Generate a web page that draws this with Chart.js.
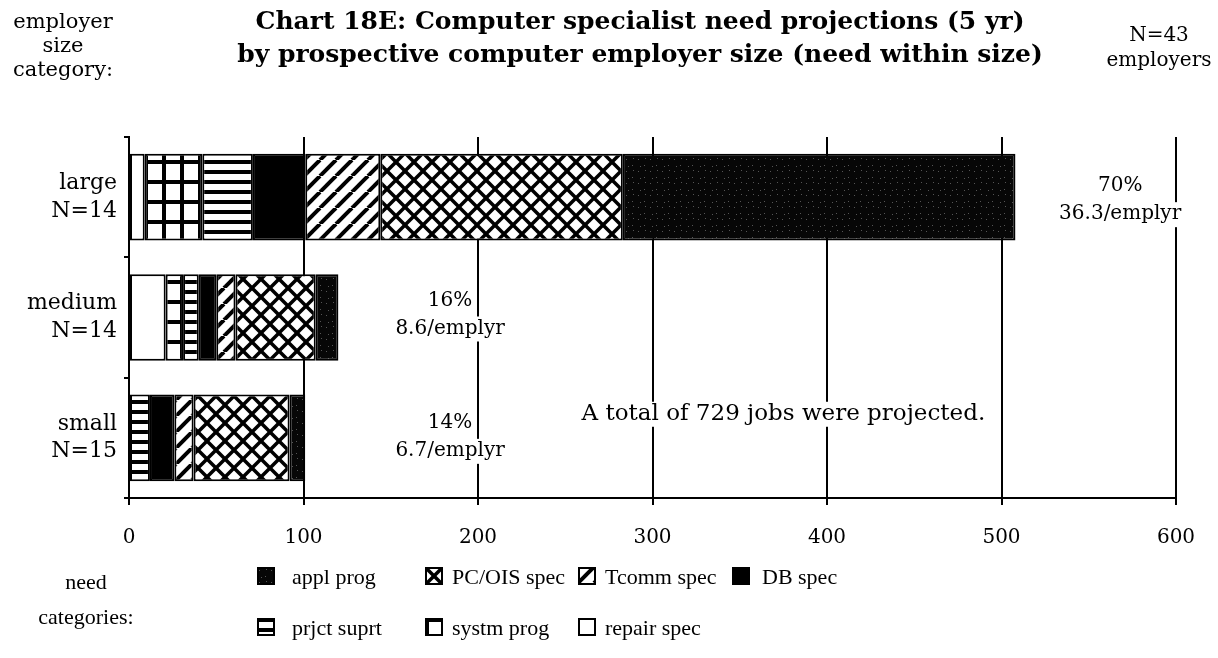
<!DOCTYPE html>
<html>
<head>
<meta charset="utf-8">
<script src="https://cdn.jsdelivr.net/npm/chart.js@4"></script>
<style>
  body { margin: 0; background: #fff; }
  #page { position: relative; width: 1218px; height: 658px; font-family: "DejaVu Serif", serif; color: #000; overflow: hidden; }
  #wrap { position: absolute; left: 0; top: 0; width: 1218px; height: 658px; }
  .t { position: absolute; white-space: nowrap; line-height: 1; }
  .c { text-align: center; }
  #title { position: absolute; left: 140px; width: 1000px; top: 4px; text-align: center; font-family: "DejaVu Serif", serif; font-weight: bold; font-size: 25px; line-height: 33px; white-space: nowrap; }
  .item { position: absolute; height: 20px; font-family: "Liberation Serif", serif; font-size: 22px; white-space: nowrap; }
  .item canvas { position: absolute; left: 0; top: 0; }
  .item span { position: absolute; top: -3px; }
</style>
</head>
<body>
<div id="page">
  <div id="wrap"><canvas id="chart"></canvas></div>
  <div id="title">Chart 18E: Computer specialist need projections (5 yr)<br>by prospective computer employer size (need within size)</div>
  <div class="t c" style="left:0; width:126px; top:9px; font-size:21px; line-height:24px;">employer<br>size<br>category:</div>
  <div class="t c" style="left:1100px; width:118px; top:22px; font-size:20px; line-height:25px;">N=43<br>employers</div>
  <div class="t c" style="left:38px; width:96px; top:564px; font-family:'Liberation Serif', serif; font-size:22px; line-height:35px;">need<br>categories:</div>
  <div id="legend"></div>
</div>
<script>
// employer size categories (y axis)
const categories = [['large', 'N=14'], ['medium', 'N=14'], ['small', 'N=15']];

// projected jobs per need category, in the order the segments are stacked
const repairSpec = [9, 21, 0];
const systmProg = [33, 10, 0];
const prjctSuprt = [29, 9, 12];
const dbSpec = [30, 10, 14];
const tcommSpec = [43, 11, 11];
const pcOisSpec = [139, 46, 55];
const applProg = [225, 13, 9];

const xTicks = [0, 100, 200, 300, 400, 500, 600];

// notes beside the bars: text, x value, category index
const noteText = [['70%', '36.3/emplyr'], ['16%', '8.6/emplyr'], ['14%', '6.7/emplyr']];
const noteX = [568, 184, 184];
const totalNote = 'A total of 729 jobs were projected.';

// fill patterns
function tile(w, h, draw) {
    const c = document.createElement('canvas');
    c.width = w; c.height = h;
    const g = c.getContext('2d');
    g.fillStyle = '#fff';
    g.fillRect(0, 0, w, h);
    g.fillStyle = '#000';
    g.strokeStyle = '#000';
    draw(g, w, h);
    return g.createPattern(c, 'repeat');
}
function diagonals(g, s, dir) {
    for (const k of [-s, 0, s]) {
        g.beginPath();
        if (dir > 0) { g.moveTo(k, s); g.lineTo(k + s, 0); }
        else { g.moveTo(k, 0); g.lineTo(k + s, s); }
        g.stroke();
    }
}
const fills = {
    repair: '#ffffff',
    systm: tile(18, 20, (g) => { g.fillRect(0, 0, 4, 20); g.fillRect(0, 0, 18, 4); }),
    prjct: tile(8, 10, (g) => { g.fillRect(0, 0, 8, 4); }),
    db: '#000000',
    tcomm: tile(16, 16, (g) => { g.lineWidth = 4; diagonals(g, 16, 1); }),
    pcois: tile(18, 18, (g) => { g.lineWidth = 3.5; diagonals(g, 18, 1); diagonals(g, 18, -1); }),
    appl: tile(12, 12, (g) => {
        g.fillStyle = '#070707'; g.fillRect(0, 0, 12, 12);
        g.fillStyle = '#555';
        g.fillRect(2, 3, 1, 1); g.fillRect(8, 9, 1, 1); g.fillRect(9, 2, 1, 1); g.fillRect(4, 10, 1, 1);
    })
};

const series = [
    { label: 'repair spec', data: repairSpec, fill: fills.repair },
    { label: 'systm prog', data: systmProg, fill: fills.systm },
    { label: 'prjct suprt', data: prjctSuprt, fill: fills.prjct },
    { label: 'DB spec', data: dbSpec, fill: fills.db },
    { label: 'Tcomm spec', data: tcommSpec, fill: fills.tcomm },
    { label: 'PC/OIS spec', data: pcOisSpec, fill: fills.pcois },
    { label: 'appl prog', data: applProg, fill: fills.appl }
];

// text notes drawn on white so they break the grid lines, like the original
const notesPlugin = {
    id: 'notes',
    afterDatasetsDraw(chart) {
        const { ctx, scales: { x, y } } = chart;
        ctx.save();
        ctx.textAlign = 'center';
        ctx.textBaseline = 'middle';
        const put = (text, px, py) => {
            const w = ctx.measureText(text).width;
            ctx.fillStyle = '#fff';
            ctx.fillRect(px - w / 2 - 2, py - 12, w + 4, 25);
            ctx.fillStyle = '#000';
            ctx.fillText(text, px, py);
        };
        ctx.font = '20px "DejaVu Serif"';
        const shift = [4, -2, 0];
        noteText.forEach((lines, i) => {
            const px = x.getPixelForValue(noteX[i]);
            const py = y.getPixelForValue(i) + shift[i];
            put(lines[0], px, py - 15);
            put(lines[1], px, py + 13);
        });
        ctx.font = '23px "DejaVu Serif"';
        put(totalNote, x.getPixelForValue(375), y.getPixelForValue(1.8));
        ctx.restore();
    }
};

const chart = new Chart(document.getElementById('chart'), {
    type: 'bar',
    data: {
        labels: categories,
        datasets: series.map(s => ({
            label: s.label,
            data: s.data,
            backgroundColor: s.fill,
            borderColor: '#000',
            borderWidth: 2,
            borderSkipped: false,
            barPercentage: 0.72,
            categoryPercentage: 1
        }))
    },
    options: {
        indexAxis: 'y',
        responsive: true,
        maintainAspectRatio: false,
        animation: false,
        layout: { padding: { top: 137, right: 42, left: 0, bottom: 0 } },
        plugins: { legend: { display: false }, tooltip: { enabled: false }, title: { display: false } },
        scales: {
            x: {
                stacked: true,
                min: 0,
                max: 600,
                afterBuildTicks: (s) => { s.ticks = xTicks.map(v => ({ value: v })); },
                afterFit: (s) => { s.height = 160; },
                border: { color: '#000', width: 2 },
                grid: { color: '#000', lineWidth: 2, tickLength: 7 },
                ticks: { color: '#000', padding: 21, font: { family: 'DejaVu Serif', size: 20 } }
            },
            y: {
                stacked: true,
                afterFit: (s) => { s.width = 129; },
                border: { color: '#000', width: 2 },
                grid: { offset: true, drawOnChartArea: false, color: '#000', lineWidth: 2, tickLength: 5 },
                ticks: { color: '#000', padding: 7, font: { family: 'DejaVu Serif', size: 22, lineHeight: 1.25 } }
            }
        }
    },
    plugins: [notesPlugin]
});

// legend, two rows as in the original
const legendRows = [
    [[6, 257, 292], [5, 425, 452], [4, 578, 605], [3, 732, 762]],
    [[2, 257, 292], [1, 425, 452], [0, 578, 605]]
];
const legend = document.getElementById('legend');
legendRows.forEach((row, r) => {
    row.forEach(([idx, boxLeft, textLeft]) => {
        const item = document.createElement('div');
        item.className = 'item';
        item.style.left = boxLeft + 'px';
        item.style.top = (567 + r * 51) + 'px';
        const box = document.createElement('canvas');
        box.width = 18; box.height = 18;
        const g = box.getContext('2d');
        g.fillStyle = series[idx].fill;
        g.fillRect(0, 0, 18, 18);
        g.lineWidth = 2;
        g.strokeStyle = '#000';
        g.strokeRect(1, 1, 16, 16);
        const span = document.createElement('span');
        span.style.left = (textLeft - boxLeft) + 'px';
        span.textContent = series[idx].label;
        item.appendChild(box);
        item.appendChild(span);
        legend.appendChild(item);
    });
});
</script>
</body>
</html>
